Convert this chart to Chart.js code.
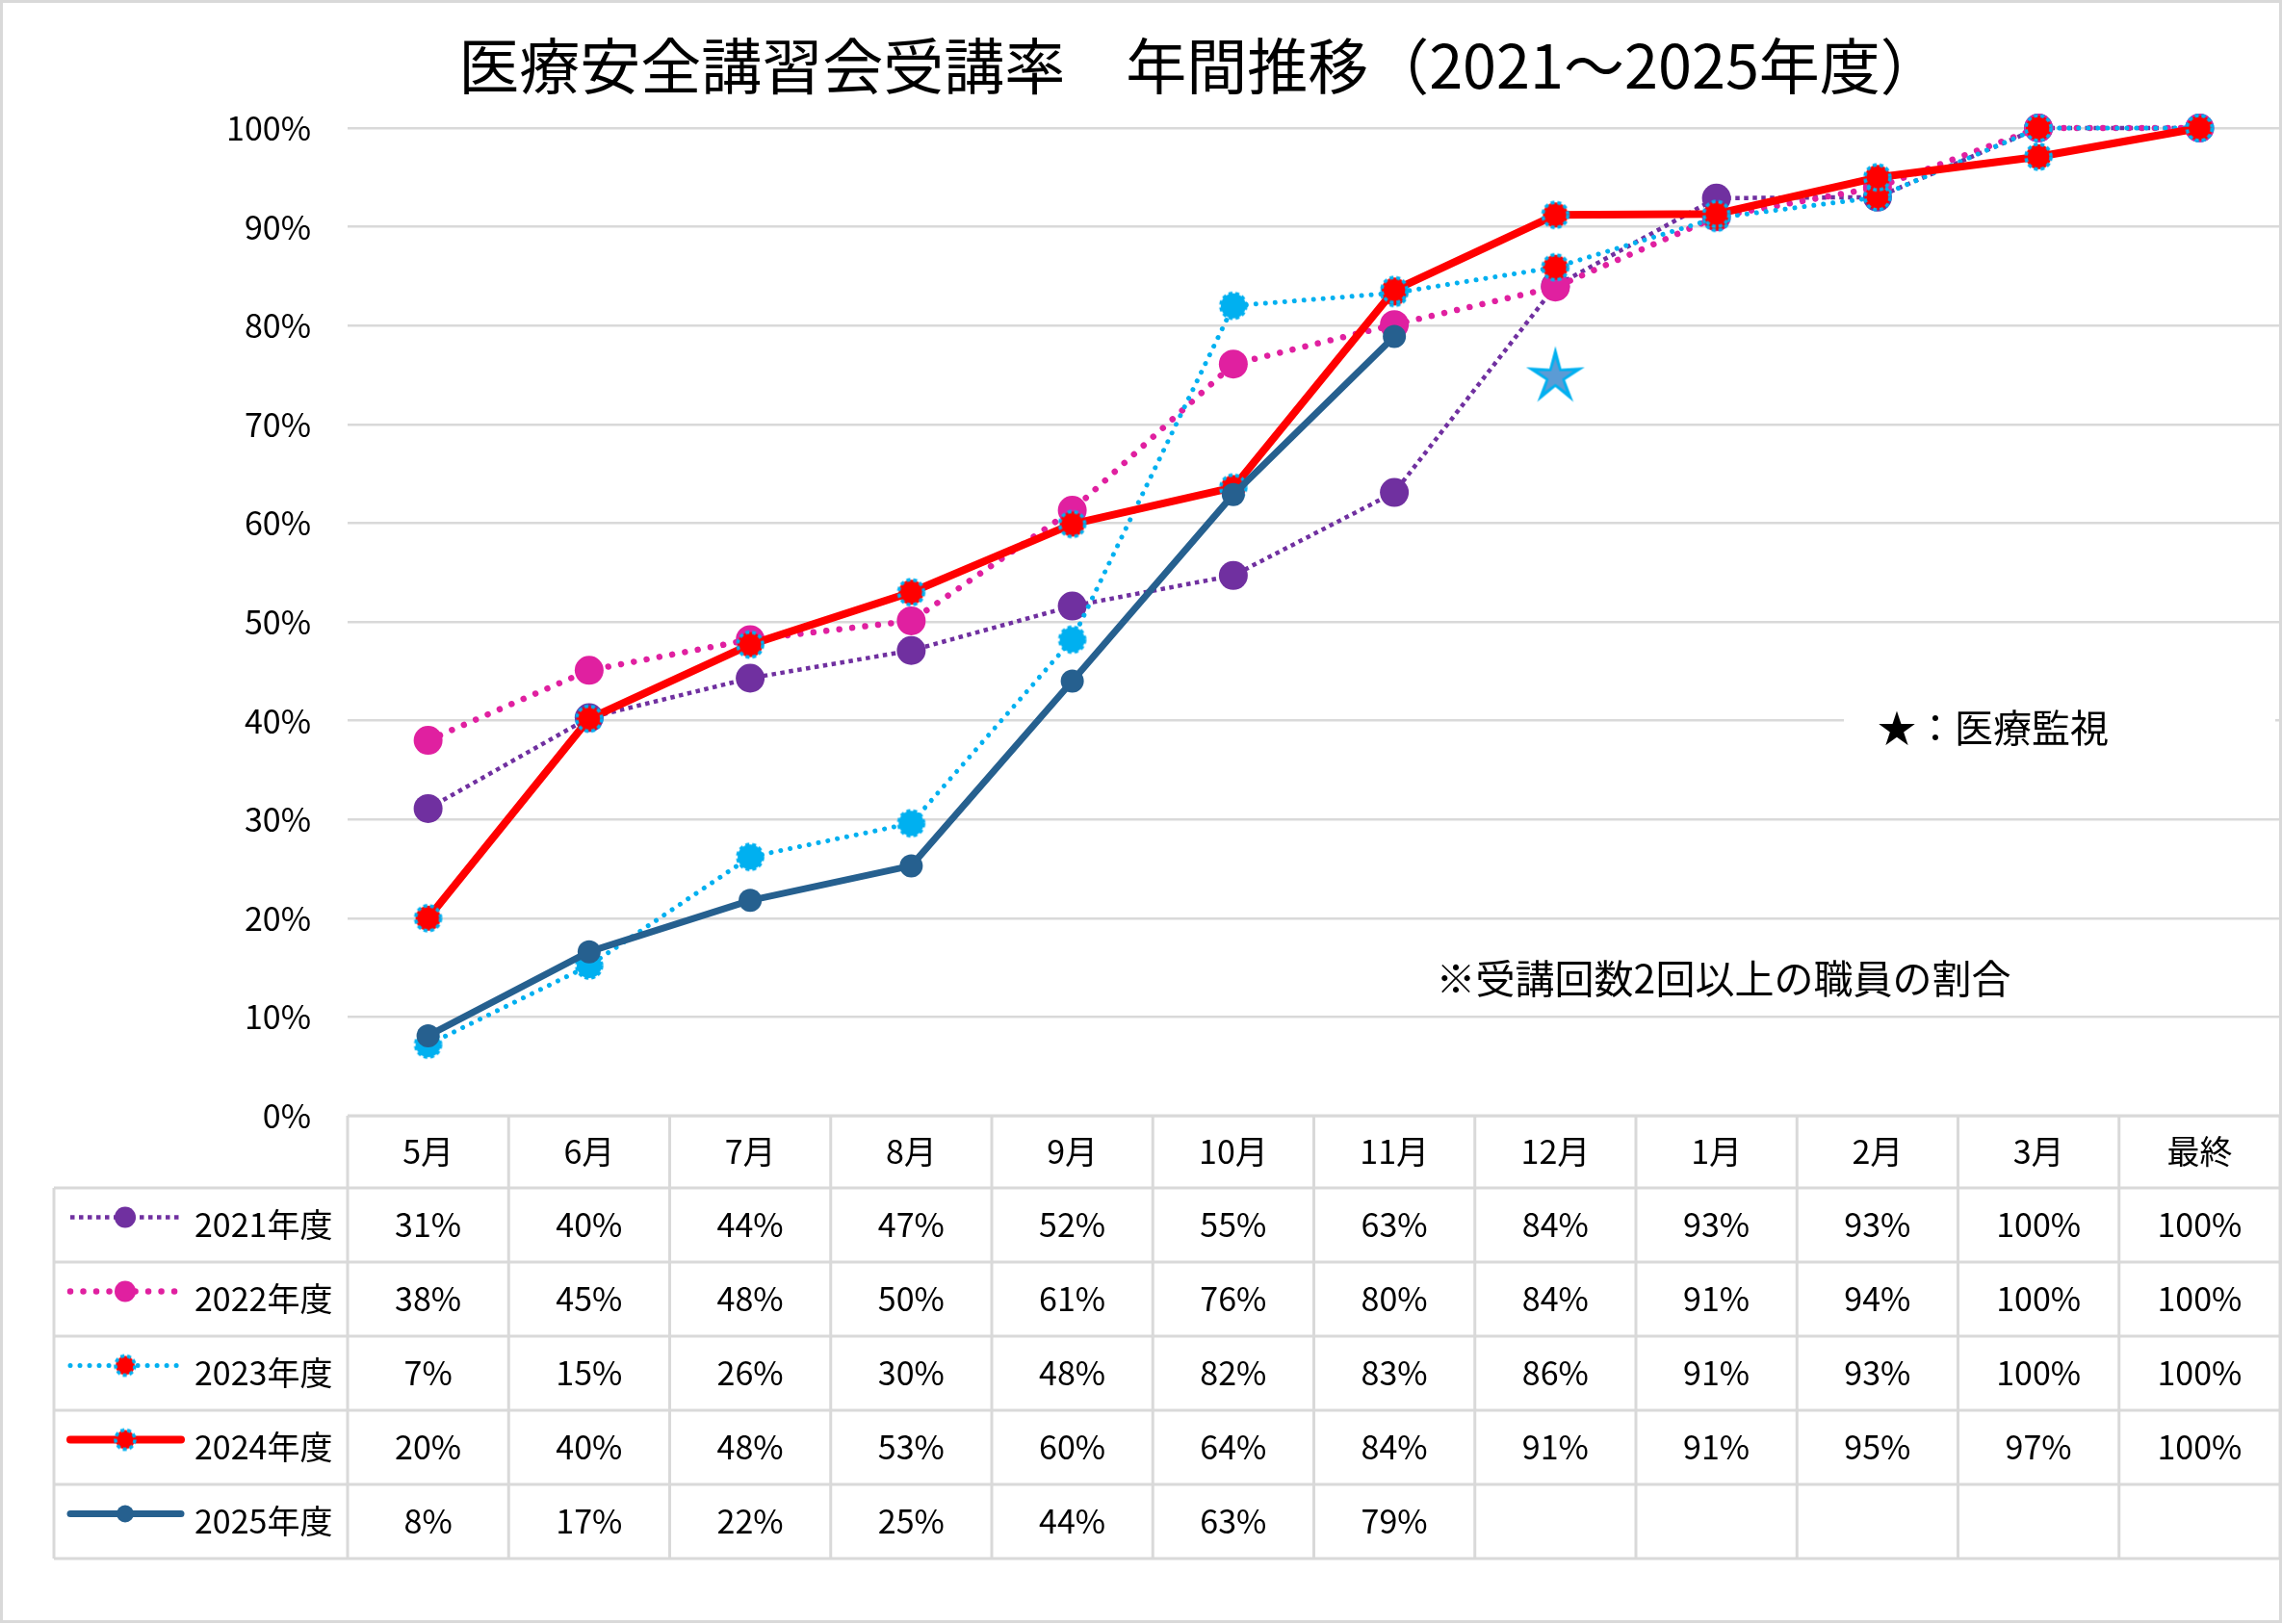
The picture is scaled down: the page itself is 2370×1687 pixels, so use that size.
<!DOCTYPE html>
<html lang="ja">
<head>
<meta charset="utf-8">
<title>医療安全講習会受講率 年間推移</title>
<script src="https://cdn.jsdelivr.net/npm/chart.js@4.4.1/dist/chart.umd.min.js"></script>
<style>
  html, body { margin: 0; padding: 0; background: #fff; }
  #wrap { width: 2370px; height: 1687px; position: relative; }
</style>
</head>
<body>
<div id="wrap"><canvas id="rateChart"></canvas></div>
<script>
// data
const months = ['5月', '6月', '7月', '8月', '9月', '10月', '11月', '12月', '1月', '2月', '3月', '最終'];
const yearLabels = ['2021年度', '2022年度', '2023年度', '2024年度', '2025年度'];
const rate2021 = [31.1, 40.3, 44.3, 47.1, 51.6, 54.7, 63.1, 84.0, 92.9, 93.0, 100, 100];
const rate2022 = [38.0, 45.1, 48.2, 50.1, 61.3, 76.1, 80.1, 83.9, 91.0, 94.0, 100, 100];
const rate2023 = [7.2, 15.2, 26.2, 29.6, 48.2, 82.0, 83.3, 85.9, 90.9, 93.0, 100, 100];
const rate2024 = [20.0, 40.2, 47.7, 53.0, 59.9, 63.6, 83.6, 91.2, 91.3, 95.0, 97.1, 100];
const rate2025 = [8.1, 16.6, 21.8, 25.3, 44.0, 62.9, 78.9, null, null, null, null, null];
const inspection = [null, null, null, null, null, null, null, 75, null, null, null, null];
const yTicks = [0, 10, 20, 30, 40, 50, 60, 70, 80, 90, 100];

const FONT = '"Noto Sans CJK JP", "Noto Sans", sans-serif';
const GRID = '#D9D9D9';

function dashedMarker(fill, r) {
  const c = document.createElement('canvas');
  const s = Math.ceil(r * 2 + 6);
  c.width = s; c.height = s;
  const g = c.getContext('2d');
  g.beginPath();
  g.arc(s / 2, s / 2, r, 0, Math.PI * 2);
  g.fillStyle = fill;
  g.fill();
  g.setLineDash([4, 3]);
  g.lineWidth = 3.5;
  g.strokeStyle = '#00B0F0';
  g.stroke();
  return c;
}

function starShape(g, cx, cy, R, ratio) {
  g.beginPath();
  for (let i = 0; i < 10; i++) {
    const rr = i % 2 === 0 ? R : R * ratio;
    const a = -Math.PI / 2 + i * Math.PI / 5;
    const px = cx + rr * Math.cos(a), py = cy + rr * Math.sin(a);
    if (i === 0) g.moveTo(px, py); else g.lineTo(px, py);
  }
  g.closePath();
}

function starMarker(R) {
  const c = document.createElement('canvas');
  const s = Math.ceil(R * 2 + 6);
  c.width = s; c.height = s;
  const g = c.getContext('2d');
  starShape(g, s / 2, s / 2 + 2, R, 0.33);
  g.fillStyle = '#00B0F0';
  g.fill();
  starShape(g, s / 2, s / 2 + 2, R * 0.6, 0.38);
  g.fillStyle = '#5B9BD5';
  g.fill();
  return c;
}

const blueMark = dashedMarker('#00B0F0', 13);
const redMark = dashedMarker('#FF0000', 13);
const starImg = starMarker(32);

// marker used in the table legend for each year
const legendMarks = [
  { color: '#7030A0', r: 11 },
  { color: '#E020A0', r: 11 },
  { img: dashedMarker('#FF0000', 10) },
  { img: dashedMarker('#FF0000', 10) },
  { color: '#26608F', r: 9 }
];

const tablePlugin = {
  id: 'dataTable',
  afterDraw(chart) {
    const { ctx, chartArea } = chart;
    const x = chart.scales.x;
    const n = months.length;
    const step = x.getPixelForValue(1) - x.getPixelForValue(0);
    const colEdge = i => x.getPixelForValue(0) - step / 2 + i * step;
    const top = chartArea.bottom;
    const headH = 75, rowH = 77, leftX = 56;
    const rows = yearLabels.length;
    const rowTop = r => top + headH + r * rowH;
    const bottom = rowTop(rows);

    ctx.save();
    // outer chart border
    ctx.strokeStyle = GRID;
    ctx.lineWidth = 3;
    ctx.strokeRect(1.5, 1.5, chart.width - 3, chart.height - 4);

    // table lines
    ctx.beginPath();
    ctx.moveTo(colEdge(0), top); ctx.lineTo(colEdge(n), top);
    for (let r = 0; r <= rows; r++) {
      ctx.moveTo(leftX, rowTop(r)); ctx.lineTo(colEdge(n), rowTop(r));
    }
    for (let i = 0; i <= n; i++) {
      ctx.moveTo(colEdge(i), top); ctx.lineTo(colEdge(i), bottom);
    }
    ctx.moveTo(leftX, rowTop(0)); ctx.lineTo(leftX, bottom);
    ctx.stroke();

    // header + cells
    ctx.fillStyle = '#000';
    ctx.textAlign = 'center';
    ctx.textBaseline = 'middle';
    ctx.font = '34px ' + FONT;
    months.forEach((m, i) => ctx.fillText(m, x.getPixelForValue(i), top + headH / 2));
    for (let r = 0; r < rows; r++) {
      const ds = chart.data.datasets[r];
      const cy = rowTop(r) + rowH / 2;
      ds.data.forEach((v, i) => {
        if (v === null) return;
        ctx.fillText(Math.round(v) + '%', x.getPixelForValue(i), cy);
      });

      // legend key
      const ly = cy - 8;
      ctx.save();
      ctx.strokeStyle = ds.borderColor;
      ctx.lineWidth = ds.borderWidth;
      ctx.setLineDash(ds.borderDash || []);
      ctx.lineCap = ds.borderDash ? (ds.borderCapStyle || 'butt') : 'round';
      ctx.beginPath();
      ctx.moveTo(73, ly); ctx.lineTo(188, ly);
      ctx.stroke();
      const mk = legendMarks[r];
      if (mk.img) {
        ctx.drawImage(mk.img, 130 - mk.img.width / 2, ly - mk.img.height / 2);
      } else {
        ctx.setLineDash([]);
        ctx.fillStyle = mk.color;
        ctx.beginPath();
        ctx.arc(130, ly, mk.r, 0, Math.PI * 2);
        ctx.fill();
      }
      ctx.restore();
      ctx.textAlign = 'left';
      ctx.fillText(yearLabels[r], 202, cy);
      ctx.textAlign = 'center';
    }

    // title
    ctx.font = '63px ' + FONT;
    ctx.fillText('医療安全講習会受講率　年間推移（2021～2025年度）', 1246, 68);

    // annotations
    ctx.fillStyle = '#fff';
    ctx.fillRect(1915, 716, 448, 80);
    ctx.fillStyle = '#000';
    ctx.font = '40px ' + FONT;
    ctx.textAlign = 'left';
    ctx.fillText('★：医療監視', 1950, 756);
    ctx.textAlign = 'center';
    ctx.font = '41px ' + FONT;
    ctx.fillText('※受講回数2回以上の職員の割合', 1790, 1016);
    ctx.restore();
  }
};

new Chart(document.getElementById('rateChart'), {
  type: 'line',
  data: {
    labels: months,
    datasets: [
      {
        label: yearLabels[0], data: rate2021,
        borderColor: '#7030A0', backgroundColor: '#7030A0',
        borderWidth: 4.5, borderDash: [4.5, 4.5],
        pointRadius: 15, pointBorderWidth: 0, order: 5
      },
      {
        label: yearLabels[1], data: rate2022,
        borderColor: '#E020A0', backgroundColor: '#E020A0',
        borderWidth: 6.5, borderDash: [0.01, 13.5], borderCapStyle: 'round',
        pointRadius: 15, pointBorderWidth: 0, order: 4
      },
      {
        label: yearLabels[2], data: rate2023,
        borderColor: '#00B0F0', backgroundColor: '#00B0F0',
        borderWidth: 5, borderDash: [0.01, 10], borderCapStyle: 'round',
        pointStyle: ctx => (ctx.dataIndex < 6 ? blueMark : redMark),
        pointRadius: 13, order: 3
      },
      {
        label: yearLabels[3], data: rate2024,
        borderColor: '#FF0000', backgroundColor: '#FF0000',
        borderWidth: 8, borderJoinStyle: 'round',
        pointStyle: redMark, pointRadius: 13, order: 2
      },
      {
        label: yearLabels[4], data: rate2025,
        borderColor: '#26608F', backgroundColor: '#26608F',
        borderWidth: 7, borderJoinStyle: 'round',
        pointRadius: 12, pointBorderWidth: 0, order: 1
      },
      {
        label: '医療監視', data: inspection,
        showLine: false, pointStyle: starImg, pointRadius: 20, order: 0
      }
    ]
  },
  options: {
    responsive: true,
    maintainAspectRatio: false,
    devicePixelRatio: 1,
    animation: false,
    events: [],
    layout: { autoPadding: false, padding: { top: 133, bottom: 528, left: 0, right: 2 } },
    datasets: { line: { clip: false, tension: 0, spanGaps: false } },
    plugins: {
      legend: { display: false },
      title: { display: false },
      tooltip: { enabled: false }
    },
    scales: {
      x: { display: false, offset: true },
      y: {
        min: 0, max: 100,
        afterBuildTicks: scale => { scale.ticks = yTicks.map(v => ({ value: v })); },
        afterFit: scale => { scale.width = 361; },
        border: { display: false },
        grid: { color: GRID, lineWidth: 2.5, drawTicks: false },
        ticks: {
          padding: 38, color: '#000',
          font: { family: FONT, size: 34 },
          callback: v => v + '%'
        }
      }
    }
  },
  plugins: [tablePlugin]
});
</script>
</body>
</html>
